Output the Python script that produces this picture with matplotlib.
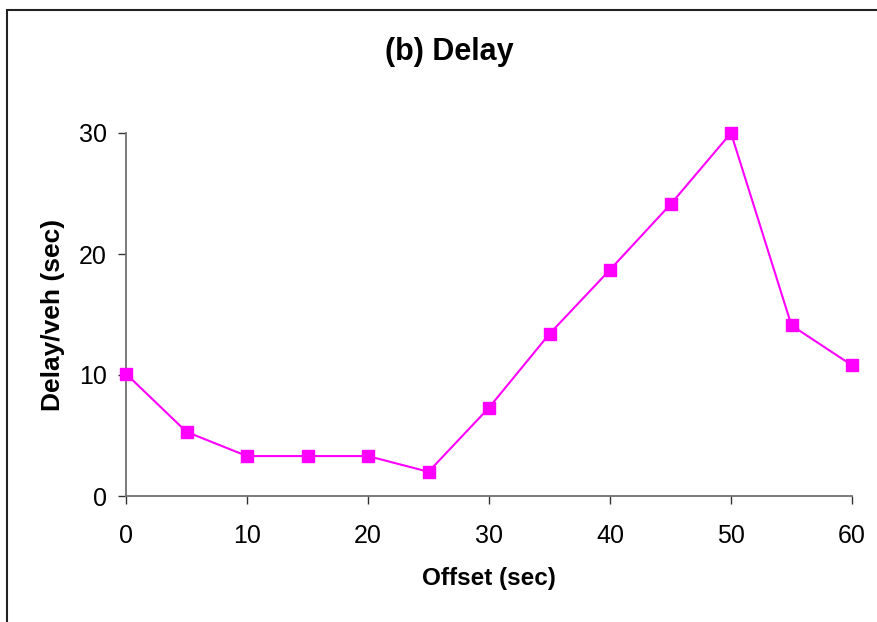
import matplotlib.pyplot as plt
from matplotlib.patches import Rectangle

plt.rcParams['font.family'] = ['Liberation Sans', 'DejaVu Sans']

# Data
offset = [0, 5, 10, 15, 20, 25, 30, 35, 40, 45, 50, 55, 60]
delay = [10.1, 5.3, 3.3, 3.3, 3.3, 2.0, 7.3, 13.4, 18.7, 24.1, 30.0, 14.1, 10.8]
x_ticks = [0, 10, 20, 30, 40, 50, 60]
y_ticks = [0, 10, 20, 30]

fig = plt.figure(figsize=(8.77, 6.22), dpi=100)
ax = fig.add_axes([126/877, 1 - 496/622, (852 - 126)/877, (496 - 133)/622])

# outer chart frame (cut off at right and bottom)
fig.patches.append(Rectangle((7/877, -0.1), 1.2, 1 - 10/622 + 0.1,
                             transform=fig.transFigure, fill=False,
                             edgecolor='#222222', linewidth=1.5))

ax.plot(offset, delay, color='#FF00FF', linewidth=1.5, marker='s',
        markersize=8.5, clip_on=False, zorder=3)

ax.set_xlim(0, 60)
ax.set_ylim(0, 30)
ax.set_xticks(x_ticks)
ax.set_yticks(y_ticks)

for s in ['top', 'right']:
    ax.spines[s].set_visible(False)
for s in ['left', 'bottom']:
    ax.spines[s].set_color('#707070')
    ax.spines[s].set_linewidth(1.3)

ax.tick_params(axis='both', direction='out', length=6, width=1, color='#333333',
               labelsize=18)
ax.tick_params(axis='x', pad=14)
ax.tick_params(axis='y', pad=8)

ax.set_xlabel('Offset (sec)', fontsize=17.5, fontweight='bold', labelpad=14)
ax.set_ylabel('Delay/veh (sec)', fontsize=19, fontweight='bold', labelpad=10)
fig.text(449/877, 1 - 52/622, '(b) Delay', fontsize=22, fontweight='bold',
         ha='center', va='center')

fig.savefig('out.png', dpi=100)
